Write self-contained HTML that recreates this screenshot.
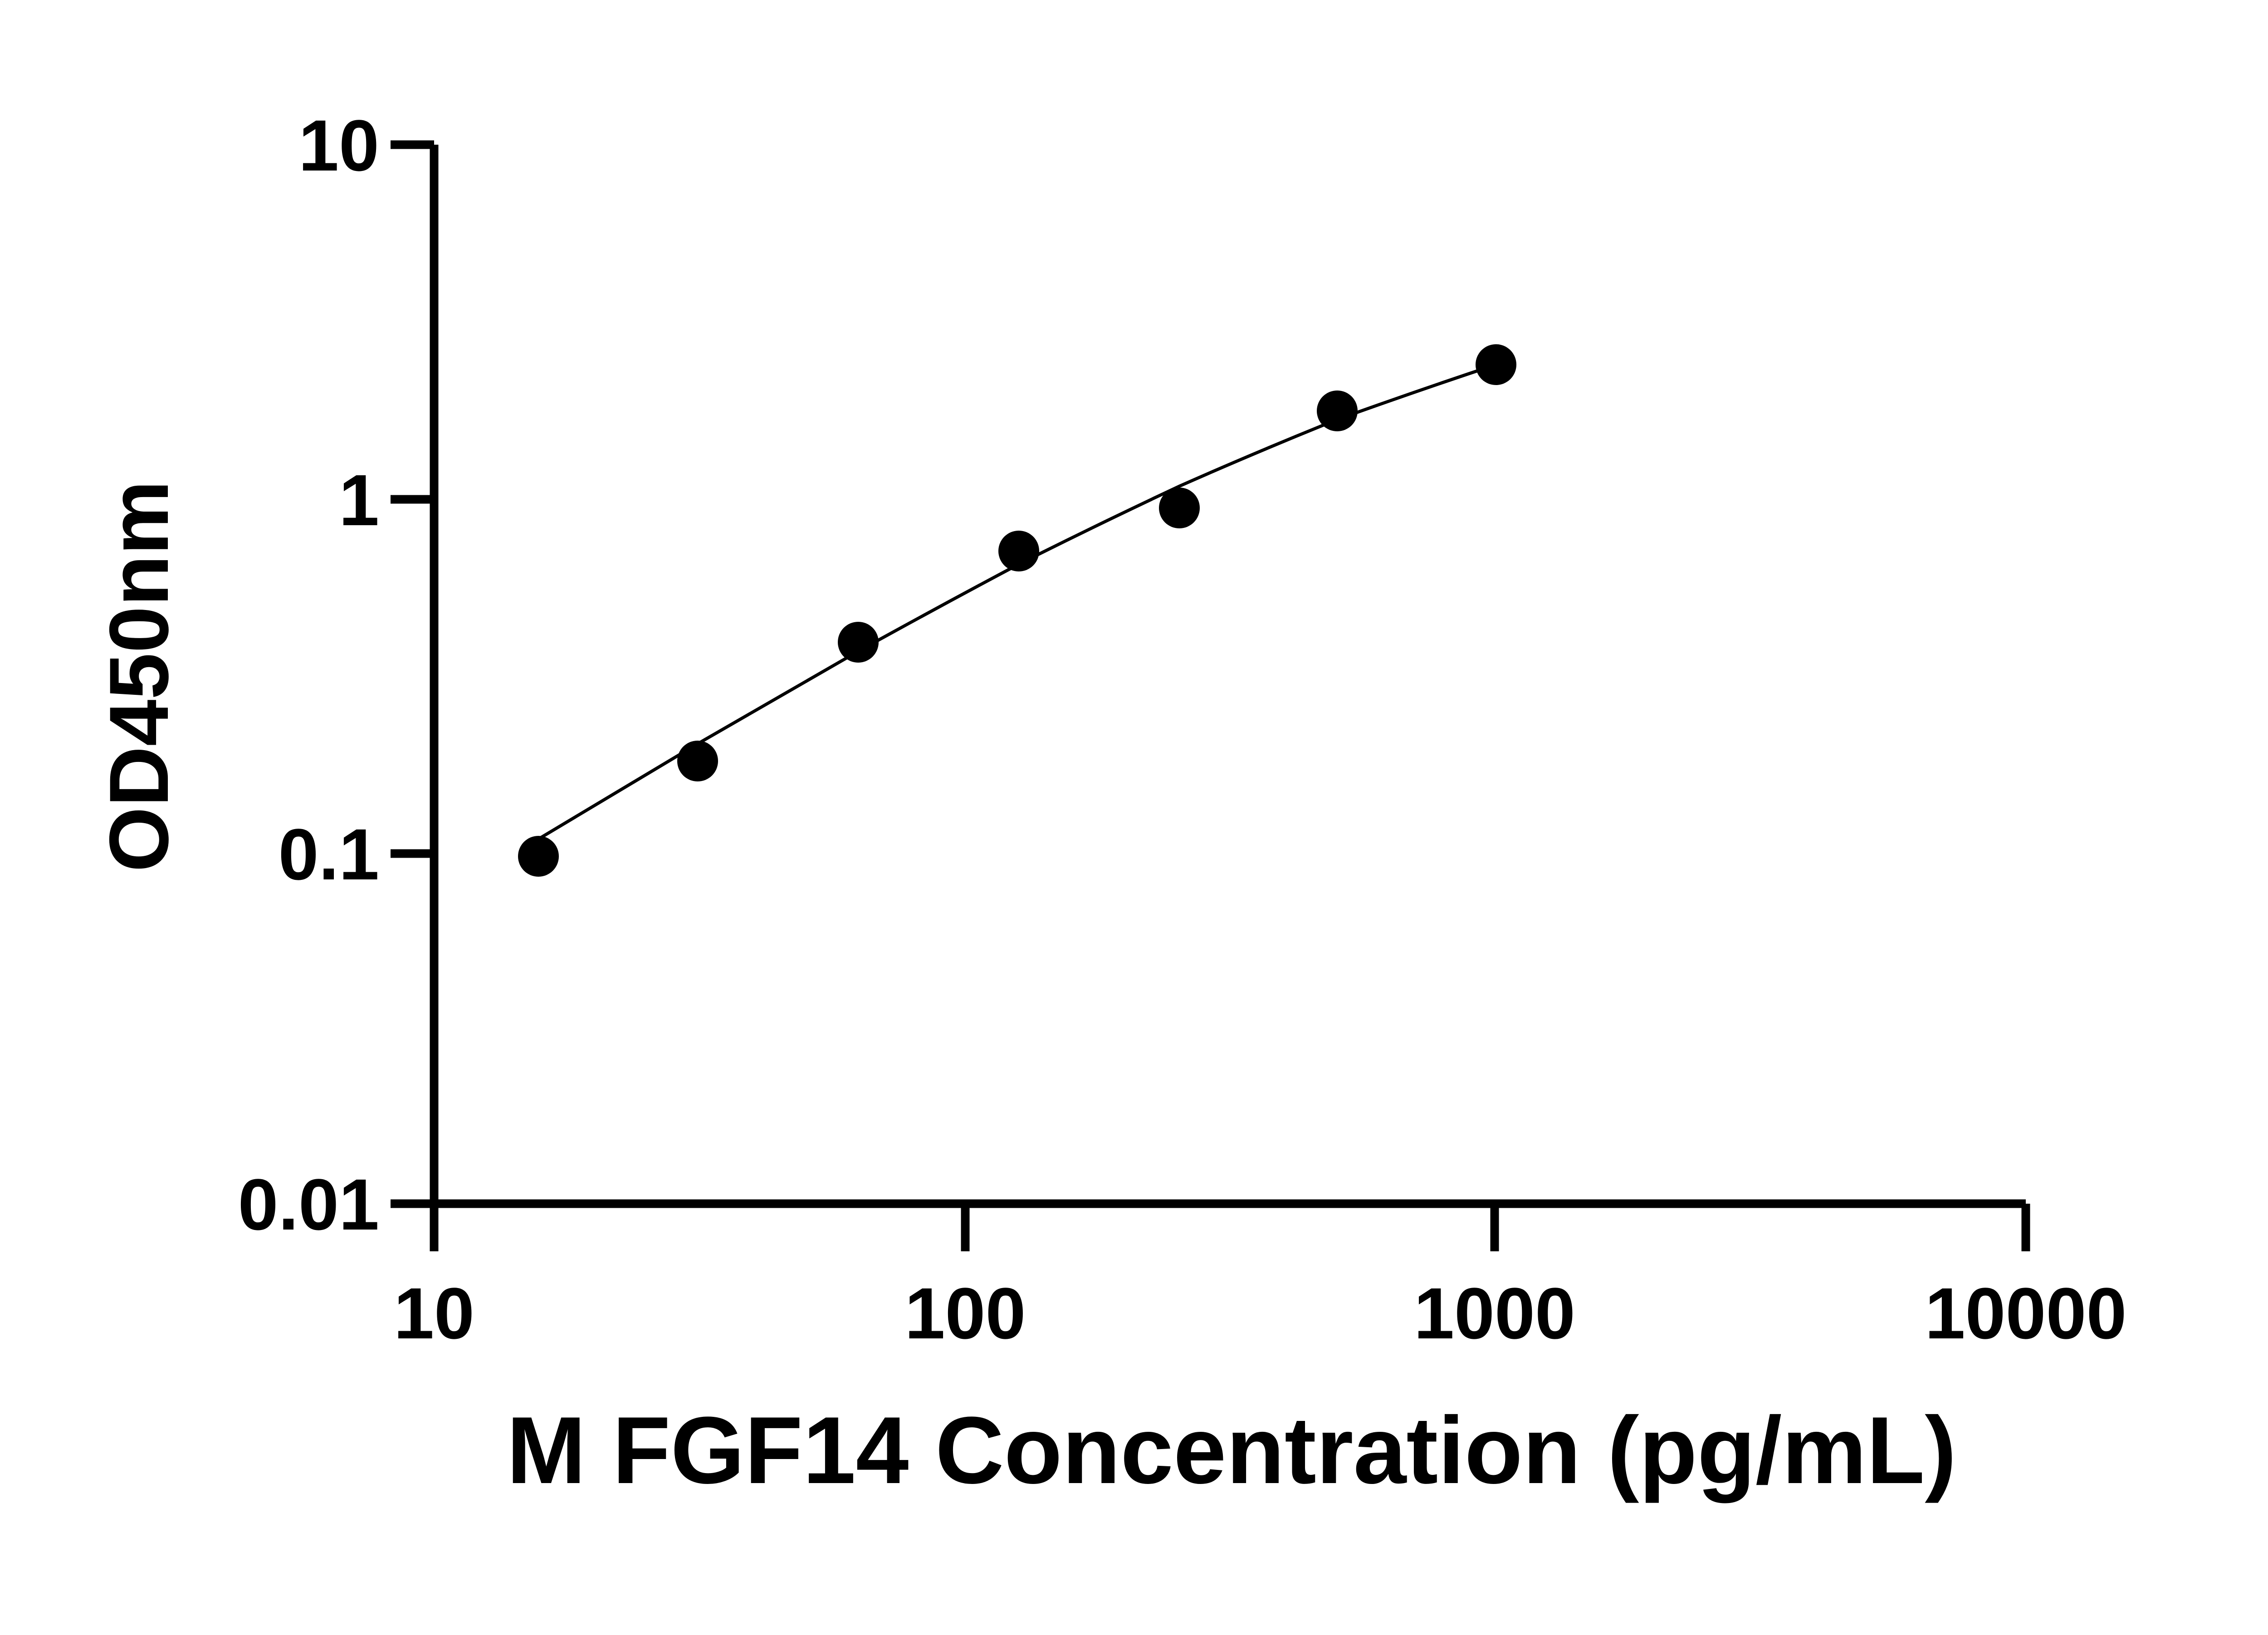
<!DOCTYPE html>
<html><head><meta charset="utf-8"><style>html,body{margin:0;padding:0;background:#fff}</style></head>
<body>
<svg width="5142" height="3600" viewBox="0 0 5142 3600" xmlns="http://www.w3.org/2000/svg" font-family="Liberation Sans, sans-serif" font-weight="bold">
<rect width="5142" height="3600" fill="#fff"/>
<g stroke="#000" stroke-width="19" fill="none" stroke-linecap="butt">
<path d="M957,319 V2654 H4466"/>
<path d="M861,319 H957 M861,1101 H957 M861,1882 H957 M861,2654 H957"/>
<path d="M957,2654 V2759 M2128,2654 V2759 M3295,2654 V2759 M4466,2654 V2759"/>
</g>
<path d="M1187,1850 Q1362,1746 1538,1640 Q1715,1538 1892,1436 Q2069,1338 2246,1244 Q2423,1155 2600,1072 Q2774,995 2948,925 Q3123,862 3298,804" stroke="#000" stroke-width="7" fill="none"/>
<g fill="#000">
<circle cx="1187" cy="1888" r="45"/><circle cx="1538" cy="1678" r="45"/><circle cx="1892" cy="1416" r="45"/><circle cx="2246" cy="1215" r="45"/><circle cx="2600" cy="1120" r="45"/><circle cx="2948" cy="906" r="45"/><circle cx="3298" cy="804" r="45"/>
</g>
<g font-size="160" text-anchor="end" fill="#000">
<text x="836" y="376">10</text>
<text x="836" y="1158">1</text>
<text x="836" y="1939">0.1</text>
<text x="836" y="2711">0.01</text>
</g>
<g font-size="160" text-anchor="middle" fill="#000">
<text x="957" y="2951">10</text>
<text x="2128" y="2951">100</text>
<text x="3295" y="2951">1000</text>
<text x="4466" y="2951">10000</text>
</g>
<text x="2715" y="3270" font-size="210" text-anchor="middle" fill="#000">M FGF14 Concentration (pg/mL)</text>
<text transform="translate(370,1491) rotate(-90)" font-size="185" text-anchor="middle" fill="#000">OD450nm</text>
</svg>
</body></html>
